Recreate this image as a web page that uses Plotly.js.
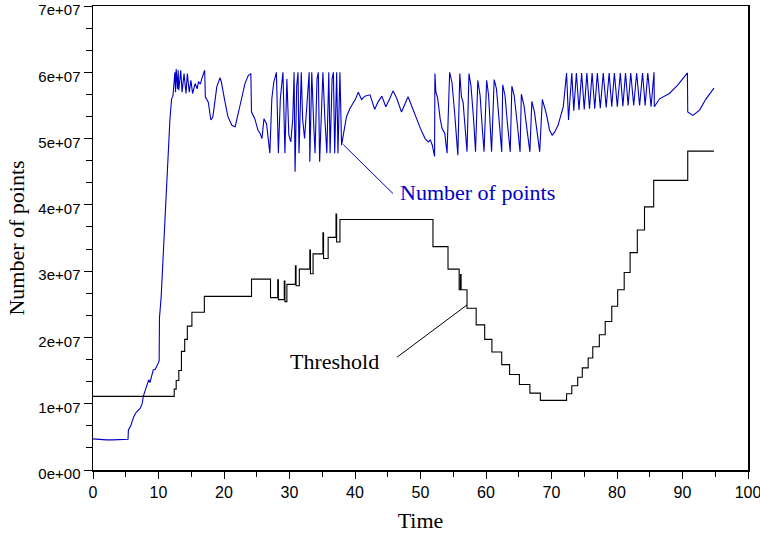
<!DOCTYPE html>
<html>
<head>
<meta charset="utf-8">
<script src="https://cdn.plot.ly/plotly-3.0.1.min.js"></script>
<style>html,body{margin:0;padding:0;background:#fff;}#chart{width:760px;height:533px;}</style>
</head>
<body>
<div id="chart"></div>
<script>
// values are in units of 1e7 points
const SCALE = 1e7;

const pointsTime = [
  0, 1, 2, 3, 4, 5, 5.35, 5.4, 5.8, 6.2, 6.6, 7.2, 7.5, 7.7, 8.2, 8.5, 8.7, 9.0, 9.2, 9.5, 9.8, 10.0, 10.1,
  10.15, 10.4, 10.6, 10.8, 11.1, 11.5, 11.75, 12.0, 12.2, 12.3, 12.5, 12.6, 12.7, 12.9, 13.0, 13.1, 13.4,
  13.6, 13.9, 14.2, 14.4, 14.7, 14.95, 15.2, 15.6, 15.9, 16.1, 16.4, 16.6, 17.05, 17.15, 17.6, 18.0, 18.3,
  18.6, 18.9, 19.4, 19.6, 20.1, 20.6, 21.2, 21.7, 22.4, 23.2, 23.7, 24.1, 24.2, 24.7, 25.2, 25.5, 25.8,
  26.1, 26.5, 27.0,
  27.3, 27.6, 28.0, 28.3, 28.6, 29.0, 29.3, 29.6, 29.9, 30.2, 30.5, 30.7, 30.85, 31.1, 31.3, 31.45, 31.8,
  32.0, 32.3, 32.6, 33.0, 33.1, 33.4, 33.7, 33.9, 34.2, 34.4, 34.6, 35.0, 35.1, 35.4, 35.7, 36.0, 36.2,
  36.5, 36.7, 36.9, 37.2, 37.4, 37.7, 37.95,
  38.5, 38.7, 39.2, 39.7, 40.1, 40.5, 41.0, 41.5, 42.3, 43.0, 43.5, 44.1, 44.7, 45.3, 45.8, 46.4, 47.1,
  48.1, 48.8, 49.4, 50.0, 50.7, 51.2, 51.5, 51.8, 52.15,
  52.2, 52.35, 52.6, 53.0, 53.3, 53.7, 54.05, 54.45, 54.8, 55.2, 55.7, 56.0, 56.25, 56.5, 56.8, 57.1,
  57.4, 57.7, 58.1, 58.4, 58.75, 59.1, 59.4, 59.7, 60.1, 60.4, 60.85, 61.25, 61.6, 62.0, 62.4, 62.55,
  62.9, 63.3, 63.7, 63.95, 64.3, 64.8, 65.2, 65.4, 65.8, 66.3, 66.7, 67.0, 67.4, 67.8, 68.2, 68.6,
  69.2, 69.7, 70.1, 70.5, 71.0, 71.8,
  72.3, 72.6, 73.1, 73.4, 73.8, 74.2, 74.6, 75.0, 75.4, 75.8, 76.2, 76.6, 77.0, 77.45, 77.9, 78.35,
  78.8, 79.2, 79.6, 80.05, 80.5, 80.9, 81.3, 81.7, 82.1, 82.55, 83.0, 83.45, 83.9, 84.3, 84.7, 85.2,
  85.65, 85.7, 86.5, 88.0, 89.3, 90.75, 90.8, 91.6, 92.6, 93.6, 94.8
];
const pointsValue = [
  0.47, 0.46, 0.455, 0.455, 0.455, 0.46, 0.465, 0.6, 0.68, 0.8, 0.87, 0.93, 1.0, 1.12, 1.27, 1.36, 1.32, 1.45, 1.51, 1.52, 1.57, 1.62, 1.65,
  2.3, 2.6, 3.0, 3.4, 4.0, 5.0, 5.3, 5.6, 5.64, 5.76, 6.0, 5.7, 6.05, 5.75, 6.03, 5.73, 6.03,
  5.7, 5.98, 5.68, 5.98, 5.7, 5.88, 5.68, 5.83, 5.75, 5.86, 5.82, 5.9, 6.03, 5.63, 5.55, 5.28, 5.33,
  5.58, 5.78, 5.92, 5.85, 5.58, 5.33, 5.2, 5.18, 5.48, 5.83, 5.95, 5.98, 5.4, 5.3, 5.12, 5.08, 5.0,
  5.3, 5.22, 4.78,
  5.6, 5.85, 6.0, 4.78, 5.6, 6.0, 4.78, 5.9, 5.05, 4.95, 5.3, 6.0, 4.5, 5.8, 6.0, 4.78, 6.0,
  5.3, 5.0, 5.5, 6.0, 4.65, 6.0, 5.2, 4.78, 5.9, 6.0, 4.65, 5.9, 6.0, 5.3, 4.78, 6.0, 4.78,
  5.9, 6.0, 4.78, 6.0, 4.78, 6.0, 4.9,
  5.18, 5.33, 5.45, 5.53, 5.6, 5.7, 5.59, 5.64, 5.66, 5.44, 5.55, 5.64, 5.48, 5.6, 5.72, 5.6, 5.4,
  5.63, 5.45, 5.28, 5.15, 5.0, 4.95, 4.98, 4.9, 4.73,
  5.98, 5.7, 5.62, 5.3, 5.15, 5.08, 4.78, 6.0, 5.85, 5.4, 4.75, 5.98, 5.63, 5.55, 5.2, 4.8,
  5.98, 5.8, 5.3, 4.8, 5.88, 5.65, 5.2, 4.8, 5.88, 5.65, 4.8, 5.89, 5.75, 5.3, 4.8, 5.81,
  5.65, 5.2, 4.8, 5.79, 5.65, 5.2, 4.8, 5.67, 5.5, 5.1, 4.8, 5.56, 5.4, 5.1, 4.8, 5.59,
  5.38, 5.13, 5.05, 5.1, 5.2, 5.48,
  5.99, 5.28, 5.99, 5.42, 5.99, 5.43, 5.99, 5.44, 5.99, 5.45, 5.99, 5.45, 5.99, 5.46, 5.99, 5.47,
  5.99, 5.48, 5.99, 5.48, 5.99, 5.49, 5.99, 5.5, 5.99, 5.5, 5.99, 5.5, 5.99, 5.5, 5.99, 5.48,
  6.0, 5.48, 5.6, 5.68, 5.81, 5.99, 5.4, 5.35, 5.43, 5.6, 5.76
];

const thresholdTime = [
  0, 12.4, 12.7, 13.1, 13.5, 14.0, 14.4, 15.1, 17.0, 24.2, 27.1, 28.2, 28.3, 29.2, 29.3, 29.6, 30.9, 31.0,
  31.5, 33.1, 33.2, 33.6, 35.1, 35.2, 35.9, 37.1, 37.2, 37.7, 51.9, 54.2, 55.9, 56.1, 56.2, 57.1, 58.5,
  59.8, 60.9, 62.4, 63.6, 65.1, 66.7, 68.3, 72.3, 73.1, 74.0, 74.7, 75.6, 76.3, 77.3, 78.2, 79.2, 80.1,
  81.1, 82.0, 83.1, 84.2, 85.6, 90.8, 94.8
];
const thresholdValue = [
  1.11, 1.22, 1.35, 1.5, 1.79, 1.97, 2.17, 2.38, 2.62, 2.88, 2.6, 2.87, 2.57, 2.85, 2.54, 2.8, 3.08, 2.78,
  3.03, 3.32, 2.96, 3.26, 3.58, 3.19, 3.51, 3.86, 3.44, 3.78, 3.37, 3.03, 2.72, 2.95, 2.72, 2.44, 2.19,
  1.97, 1.78, 1.59, 1.44, 1.29, 1.16, 1.05, 1.15, 1.27, 1.40, 1.54, 1.69, 1.86, 2.04, 2.24, 2.47, 2.72,
  2.98, 3.28, 3.62, 3.97, 4.37, 4.81, 4.81
];

const yTickVals = [0, 1, 2, 3, 4, 5, 6, 7];
const yTickText = ['0e+00', '1e+07', '2e+07', '3e+07', '4e+07', '5e+07', '6e+07', '7e+07'];

const BLUE = '#0000c4';
const SERIF = 'Liberation Serif, Times New Roman, serif';
const SANS = 'Liberation Sans, Arial, sans-serif';

const traces = [
  {
    x: pointsTime, y: pointsValue.map(v => v * SCALE), type: 'scatter', mode: 'lines',
    line: {color: BLUE, width: 1.1}, name: 'Number of points', hoverinfo: 'skip'
  },
  {
    x: thresholdTime, y: thresholdValue.map(v => v * SCALE), type: 'scatter', mode: 'lines',
    line: {color: '#000', width: 1.1, shape: 'hv'}, name: 'Threshold', hoverinfo: 'skip'
  }
];

const layout = {
  width: 760, height: 533,
  margin: {l: 93, r: 12, t: 6, b: 63, pad: 0},
  paper_bgcolor: '#fff', plot_bgcolor: '#fff',
  showlegend: false,
  xaxis: {
    range: [0, 100], tick0: 0, dtick: 10,
    ticks: 'outside', ticklen: 7, tickwidth: 1, tickcolor: '#000',
    ticklabeloverflow: 'allow',
    minor: {dtick: 5, tick0: 0, ticks: 'outside', ticklen: 5, tickcolor: '#000', tickwidth: 1, showgrid: false},
    showline: true, linecolor: '#000', linewidth: 1.5, mirror: true,
    showgrid: false, zeroline: false,
    tickfont: {family: SANS, size: 16, color: '#000'},
    title: {text: 'Time', font: {family: SERIF, size: 22, color: '#000'}, standoff: 13}
  },
  yaxis: {
    range: [0, 7 * SCALE],
    tickmode: 'array', tickvals: yTickVals.map(v => v * SCALE), ticktext: yTickText,
    ticks: 'outside', ticklen: 8, tickwidth: 1, tickcolor: '#000',
    ticklabeloverflow: 'allow', ticklabelshift: 4,
    minor: {dtick: SCALE / 3, tick0: 0, ticks: 'outside', ticklen: 6, tickcolor: '#000', tickwidth: 1, showgrid: false},
    showline: true, linecolor: '#000', linewidth: 1.5, mirror: true,
    showgrid: false, zeroline: false,
    tickfont: {family: SANS, size: 15, color: '#000'},
    title: {text: 'Number of points', font: {family: SERIF, size: 22, color: '#000'}, standoff: 7}
  },
  shapes: [
    {type: 'line', xref: 'x', yref: 'y', x0: 38.2, y0: 4.91 * SCALE, x1: 45.8, y1: 4.17 * SCALE,
     line: {color: BLUE, width: 1}},
    {type: 'line', xref: 'x', yref: 'y', x0: 46.4, y0: 1.70 * SCALE, x1: 57.1, y1: 2.49 * SCALE,
     line: {color: '#000', width: 1}}
  ],
  annotations: [
    {text: 'Number of points', xref: 'x', yref: 'y', x: 46.6, y: 4.19 * SCALE,
     xanchor: 'left', yanchor: 'middle', showarrow: false,
     font: {family: SERIF, size: 22, color: BLUE}},
    {text: 'Threshold', xref: 'x', yref: 'y', x: 29.8, y: 1.64 * SCALE,
     xanchor: 'left', yanchor: 'middle', showarrow: false,
     font: {family: SERIF, size: 22, color: '#000'}}
  ]
};

Plotly.newPlot('chart', traces, layout, {displayModeBar: false, staticPlot: true});
</script>
</body>
</html>
